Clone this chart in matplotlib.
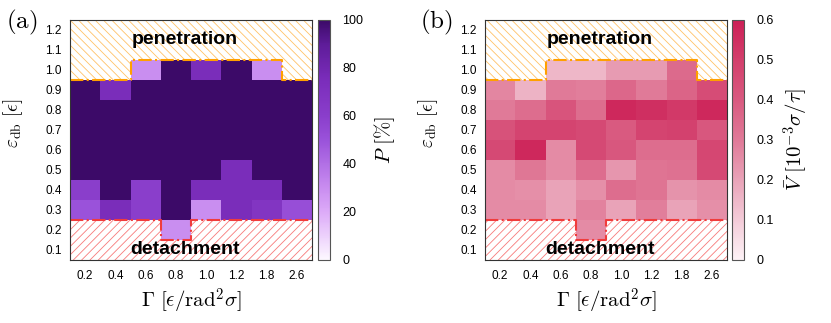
import numpy as np
import matplotlib
matplotlib.use('Agg')
import matplotlib.pyplot as plt
from matplotlib.colors import LinearSegmentedColormap
from matplotlib.patches import Polygon

nan = np.nan

gamma_labels = ['0.2', '0.4', '0.6', '0.8', '1.0', '1.2', '1.8', '2.6']
eps_db = [0.1, 0.2, 0.3, 0.4, 0.5, 0.6, 0.7, 0.8, 0.9, 1.0, 1.1, 1.2]

# penetration probability P [%], rows from eps_db=0.1 (bottom) to 1.2 (top)
P_rows = [
    [nan, nan, nan, nan, nan, nan, nan, nan],
    [nan, nan, nan, 30, nan, nan, nan, nan],
    [50, 75, 60, 100, 30, 75, 68, 52],
    [60, 100, 60, 100, 75, 75, 75, 100],
    [100, 100, 100, 100, 100, 75, 100, 100],
    [100, 100, 100, 100, 100, 100, 100, 100],
    [100, 100, 100, 100, 100, 100, 100, 100],
    [100, 100, 100, 100, 100, 100, 100, 100],
    [100, 75, 100, 100, 100, 100, 100, 100],
    [nan, nan, 30, 100, 75, 100, 30, nan],
    [nan, nan, nan, nan, nan, nan, nan, nan],
    [nan, nan, nan, nan, nan, nan, nan, nan],
]

# mean velocity V [1e-3 sigma/tau]
V_rows = [
    [nan, nan, nan, nan, nan, nan, nan, nan],
    [nan, nan, nan, 0.26, nan, nan, nan, nan],
    [0.26, 0.26, 0.20, 0.28, 0.20, 0.29, 0.20, 0.25],
    [0.26, 0.25, 0.20, 0.25, 0.34, 0.32, 0.24, 0.26],
    [0.26, 0.31, 0.26, 0.34, 0.23, 0.32, 0.33, 0.46],
    [0.46, 0.57, 0.26, 0.46, 0.41, 0.34, 0.34, 0.47],
    [0.43, 0.48, 0.48, 0.46, 0.40, 0.48, 0.49, 0.41],
    [0.30, 0.34, 0.42, 0.34, 0.57, 0.55, 0.52, 0.57],
    [0.27, 0.16, 0.30, 0.29, 0.36, 0.30, 0.37, 0.45],
    [nan, nan, 0.15, 0.15, 0.22, 0.22, 0.35, nan],
    [nan, nan, nan, nan, nan, nan, nan, nan],
    [nan, nan, nan, nan, nan, nan, nan, nan],
]

plt.rcParams['mathtext.fontset'] = 'cm'
plt.rcParams['font.family'] = ['Liberation Sans', 'DejaVu Sans']
plt.rcParams['hatch.linewidth'] = 0.6

cmap_P = LinearSegmentedColormap.from_list('purp', [
    (0.0, '#fdf8ff'), (0.2, '#dcaaf8'), (0.3, '#c98df0'), (0.5, '#9a52da'),
    (0.6, '#8a3ecb'), (0.75, '#7b2dbb'), (0.9, '#5e1c99'), (1.0, '#3c0a68')])
cmap_V = LinearSegmentedColormap.from_list('pink', [
    (0.0, '#fdf2f6'), (1/6, '#f3cbd8'), (2/6, '#e9a3b8'), (3/6, '#e07a98'),
    (4/6, '#d95a80'), (5/6, '#d33f6c'), (1.0, '#cc1f56')])

W, H = 831, 323
fig = plt.figure(figsize=(W / 100, H / 100), dpi=100)


def px(l, t, r, b):
    return [l / W, 1 - b / H, (r - l) / W, (b - t) / H]


def draw_panel(ax, cax, rows, cmap, vmax, cticks, clabel):
    Z = np.array(rows, dtype=float)
    ny, nx = Z.shape
    xe = np.arange(nx + 1)
    ye = np.concatenate([[eps_db[0] - 0.05], np.array(eps_db) + 0.05])
    mesh = ax.pcolormesh(xe, ye, np.ma.masked_invalid(Z), cmap=cmap,
                         vmin=0, vmax=vmax, zorder=1)
    ax.set_xlim(0, nx)
    ax.set_ylim(ye[0], ye[-1])

    # hatched regions (penetration on top, detachment at the bottom)
    valid = ~np.isnan(Z)
    top = [eps_db[np.where(valid[:, j])[0].max()] + 0.05 for j in range(nx)]
    bot = [eps_db[np.where(valid[:, j])[0].min()] - 0.05 for j in range(nx)]
    for bnd, yedge, col, hcol, hatch in [
            (top, ye[-1], '#ffa000', '#ffc266', '\\' * 4),
            (bot, ye[0], '#f03c3c', '#f77a7a', '/' * 4)]:
        sx, sy = [], []
        for j in range(nx):
            sx += [j, j + 1]
            sy += [bnd[j], bnd[j]]
        verts = [(0, yedge)] + list(zip(sx, sy)) + [(nx, yedge)]
        ax.add_patch(Polygon(verts, closed=True, facecolor='white',
                             edgecolor=hcol, hatch=hatch, linewidth=0, zorder=2))
        ax.plot(sx, sy, color=col, linestyle='-.', linewidth=1.5, zorder=3)

    ax.text(3.8, 1.15, 'penetration', ha='center', va='center',
            fontsize=14, fontweight='bold', zorder=4)
    ax.text(3.8, 0.105, 'detachment', ha='center', va='center',
            fontsize=14, fontweight='bold', zorder=4)

    ax.set_xticks(np.arange(nx) + 0.5)
    ax.set_xticklabels(gamma_labels)
    ax.set_yticks(eps_db)
    ax.set_yticklabels(['%.1f' % e for e in eps_db])
    ax.tick_params(length=0, labelsize=8.5, pad=7)
    ax.tick_params(axis='y', pad=6)
    for s in ax.spines.values():
        s.set_color('#333333')
        s.set_linewidth(0.8)
        s.set_zorder(5)
    ax.set_xlabel(r'$\Gamma\ [\epsilon/\mathrm{rad}^2\sigma]$', fontsize=15,
                  labelpad=4)
    ax.set_ylabel(r'$\varepsilon_{\mathrm{db}}\ [\epsilon]$', fontsize=14)
    ax.yaxis.set_label_coords(-0.185, 0.57)

    cb = fig.colorbar(mesh, cax=cax)
    cb.set_ticks(cticks)
    cb.ax.tick_params(length=0, labelsize=9, pad=9)
    cb.outline.set_edgecolor('#555555')
    cb.outline.set_linewidth(0.8)
    cb.set_label(clabel, fontsize=15, labelpad=6)
    return cb


ax1 = fig.add_axes(px(70, 20, 312, 260))
cax1 = fig.add_axes(px(318, 20, 330, 260))
draw_panel(ax1, cax1, P_rows, cmap_P, 100, [0, 20, 40, 60, 80, 100],
           r'$P\ [\%]$')

ax2 = fig.add_axes(px(485, 20, 727, 260))
cax2 = fig.add_axes(px(732, 20, 744, 260))
cb2 = draw_panel(ax2, cax2, V_rows, cmap_V, 0.6,
                 [0, 0.1, 0.2, 0.3, 0.4, 0.5, 0.6],
                 r'$\bar{V}\ [10^{-3}\sigma/\tau]$')
cb2.set_ticklabels(['0', '0.1', '0.2', '0.3', '0.4', '0.5', '0.6'])

fig.text(6 / W, 1 - 22 / H, r'$\mathrm{(a)}$', fontsize=18, va='center')
fig.text(420 / W, 1 - 22 / H, r'$\mathrm{(b)}$', fontsize=18, va='center')

fig.savefig('out.png', dpi=100)
